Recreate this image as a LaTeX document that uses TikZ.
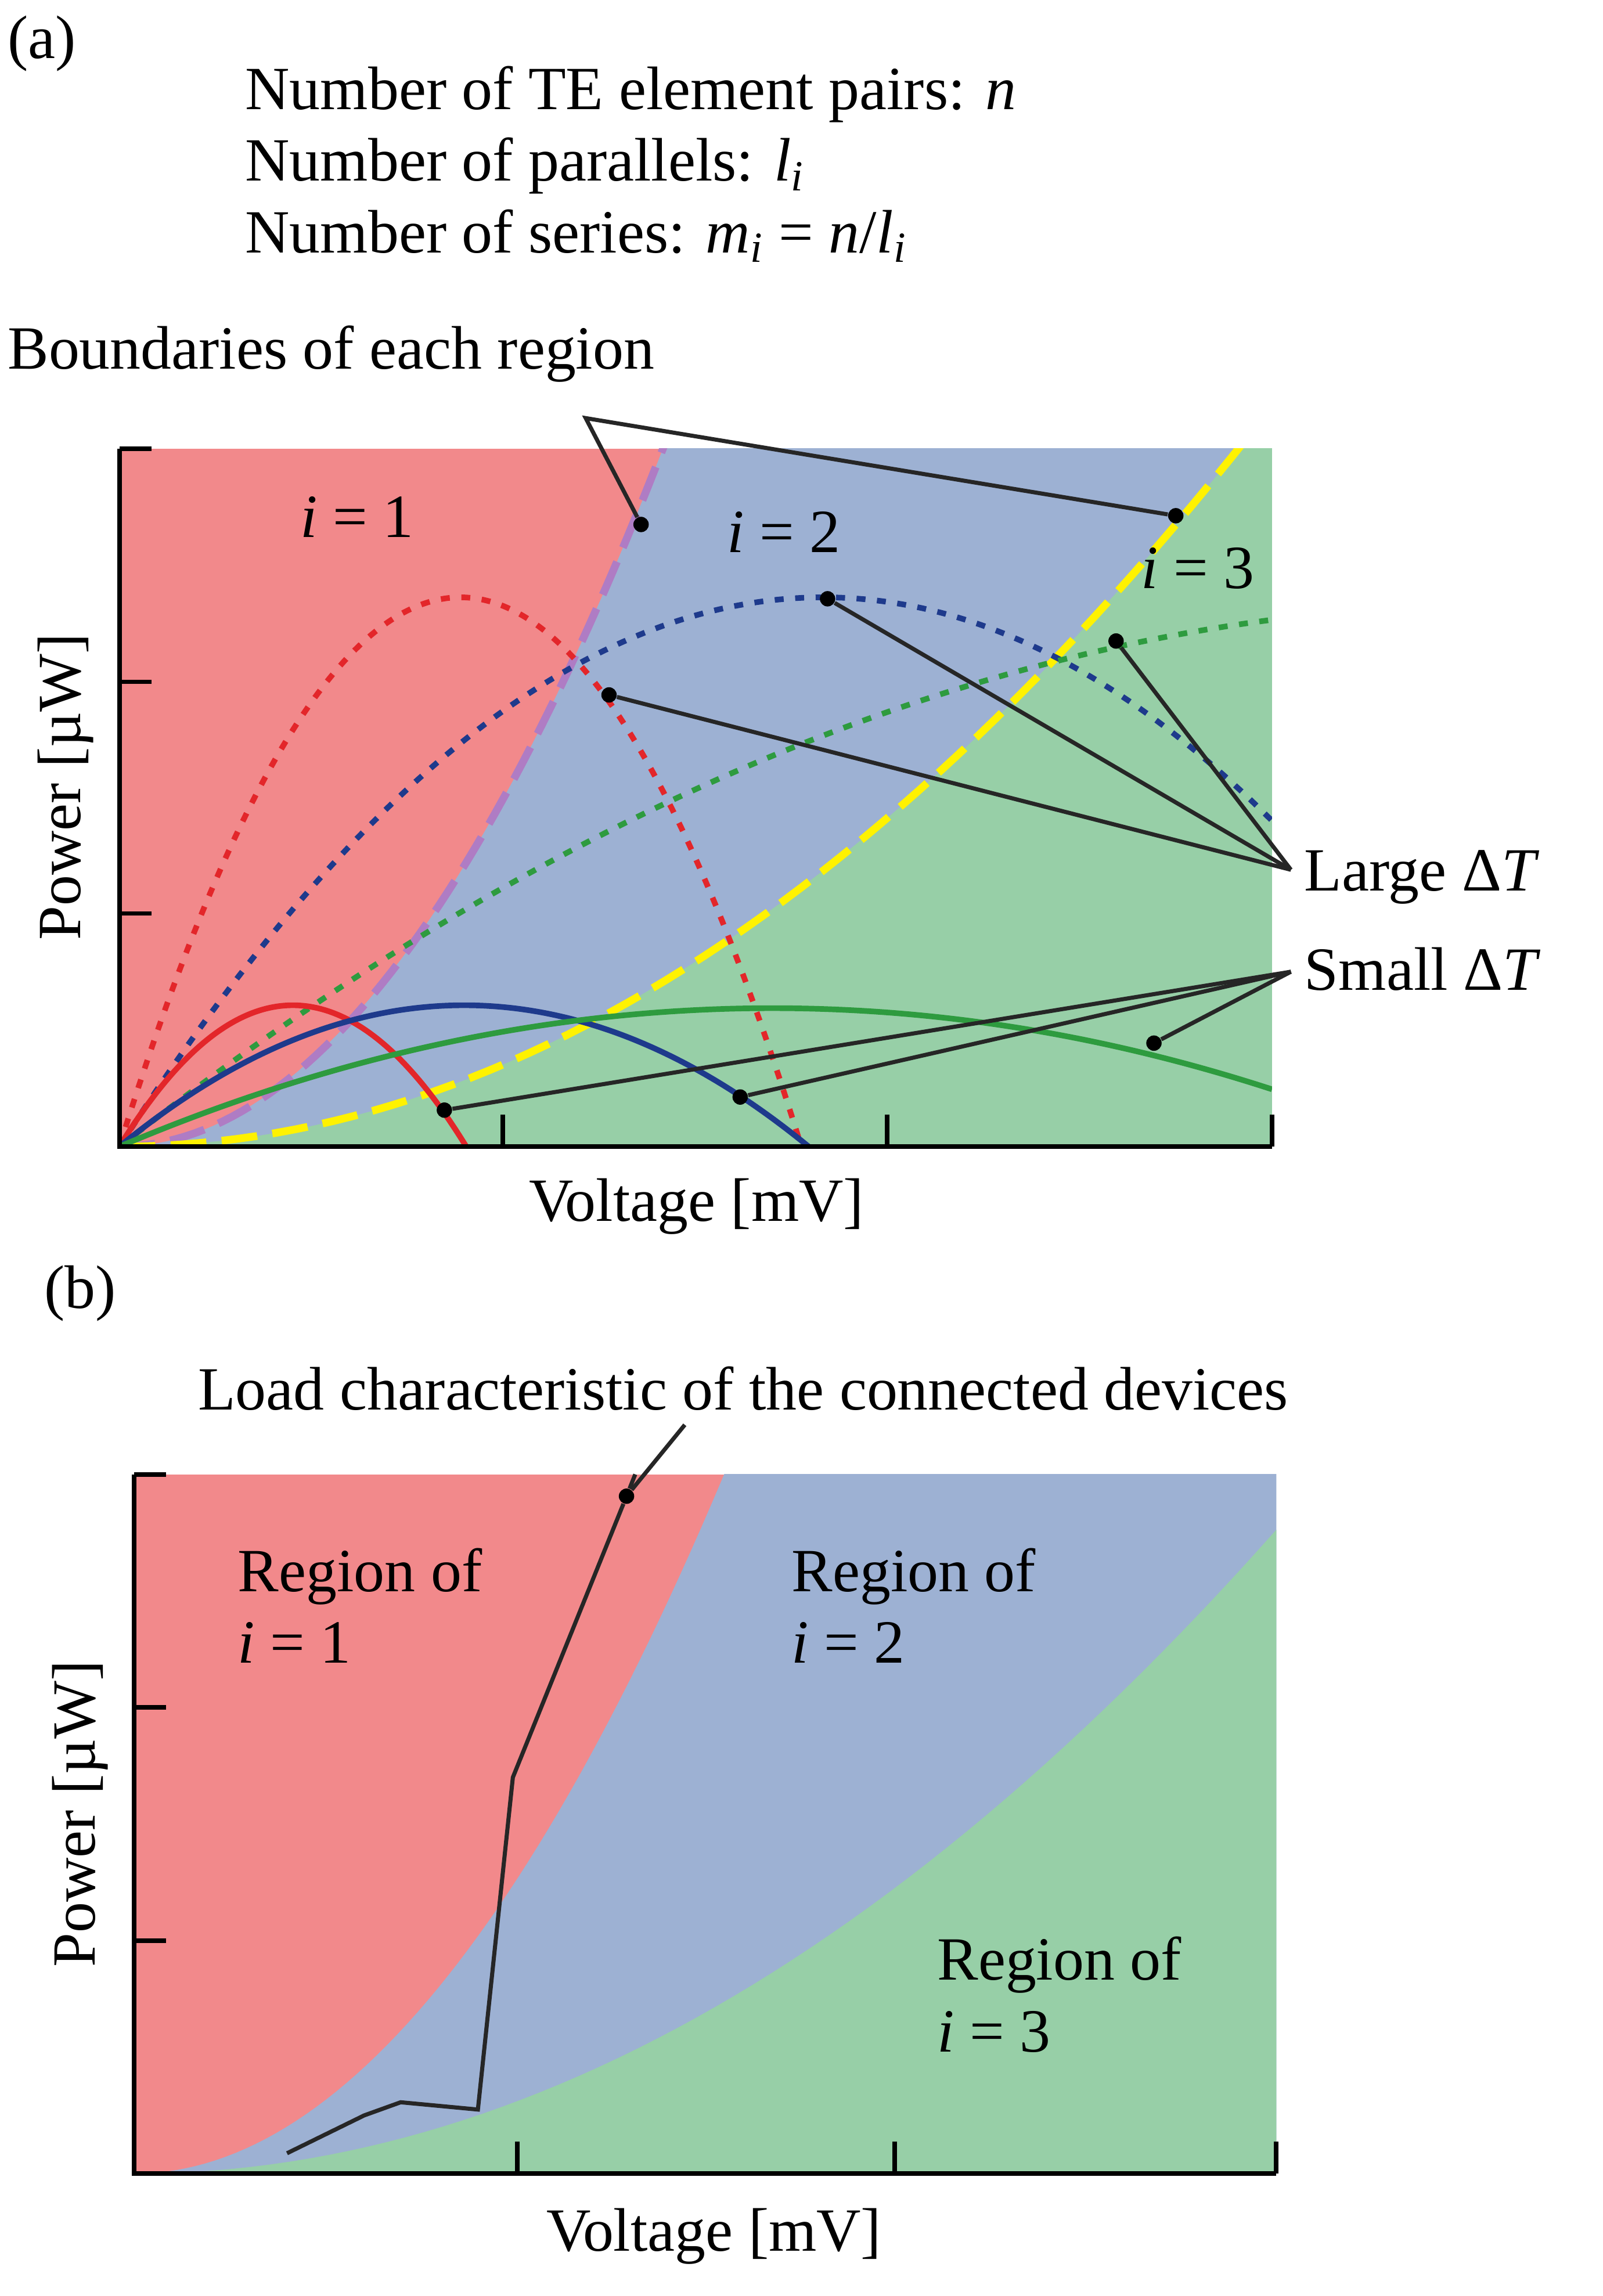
\documentclass[tikz,border=0pt]{standalone}
\usepackage{fontspec}
\setmainfont{Liberation Serif}
\definecolor{regred}{HTML}{F2898B}
\definecolor{regblue}{HTML}{9DB1D3}
\definecolor{reggreen}{HTML}{97CFA7}
\definecolor{cred}{HTML}{E3262A}
\definecolor{cblue}{HTML}{1E3A8C}
\definecolor{cgreen}{HTML}{2E9B3F}
\definecolor{cpurple}{HTML}{9B5BB5}
\tikzset{
    txt/.style = {font=\fontsize{24}{28}\selectfont, inner sep=0pt},
    axisline/.style = {line width=1.8pt, black},
    leader/.style = {line width=1.6pt, black!85},
    dot/.style = {circle, fill=black, inner sep=0pt, minimum size=6pt},
    dotted curve/.style = {line width=2.2pt, dash pattern=on 3.5pt off 4.5pt},
    solid curve/.style = {line width=2.2pt}
}
\newcommand\pvcurve[4]{% colour style, x offset Voc, height, domain end
    \draw[#1] plot[domain=0:#4, samples=80, smooth] ({82+\x},{787-4*#3*(\x/#2)*(1-\x/#2)});
}
\begin{document}
\begin{tikzpicture}[x=0.02cm, y=-0.02cm]
    \useasboundingbox (0,0) rectangle (1100,1576);

    % panel (a)
    \node[txt, anchor=west] (labela) at (5,30) {(a)};
    \node[txt, anchor=north west, align=left] (header) at (168,45)
        {Number of TE element pairs: \textit{n}\\
         Number of parallels: \textit{l\textsubscript{i}}\\
         Number of series: \textit{m\textsubscript{i}} = \textit{n}/\textit{l\textsubscript{i}}};
    \node[txt, anchor=west] (bound) at (5,243) {Boundaries of each region};

    \begin{scope}
        \clip (82,308) rectangle (873,787);
        \fill[regred] (82,308) rectangle (873,787);
        \fill[regblue] (82,787) -- plot[domain=0:380, samples=60] ({82+\x},{787-479*(\x/373)*(\x/373)}) -- (873,250) -- (873,787) -- cycle;
        \fill[reggreen] (82,787) -- plot[domain=0:790, samples=60] ({82+\x},{787-479*(\x/768)*(\x/768)}) -- (873,250) -- (873,787) -- cycle;
        \draw[cpurple!80, line width=3pt, dash pattern=on 14pt off 6pt] plot[domain=0:380, samples=60] ({82+\x},{787-479*(\x/373)*(\x/373)});
        \draw[yellow, line width=3pt, dash pattern=on 14pt off 6pt] plot[domain=0:790, samples=60] ({82+\x},{787-479*(\x/768)*(\x/768)});
        \pvcurve{cred, dotted curve}{468}{377}{468}
        \pvcurve{cblue, dotted curve}{966}{377}{791}
        \pvcurve{cgreen, dotted curve}{1900}{372}{791}
        \pvcurve{cred, solid curve}{238}{97}{238}
        \pvcurve{cblue, solid curve}{473}{97}{473}
        \pvcurve{cgreen, solid curve}{896}{95}{791}
    \end{scope}
    \draw[axisline] (82,308) -- (82,787) -- (873,787);
    \foreach \tx in {345,609,873}
        \draw[axisline] (\tx,787) -- (\tx,765);
    \foreach \ty in {308,468,627}
        \draw[axisline] (82,\ty) -- (104,\ty);

    \node[txt] (i1) at (245,355) {\textit{i} = 1};
    \node[txt] (i2) at (538,365) {\textit{i} = 2};
    \node[txt] (i3) at (822,390) {\textit{i} = 3};
    \node[txt] (volta) at (478,828) {Voltage [mV]};
    \node[txt, rotate=90] (powera) at (45,540) {Power [µW]};
    \node[txt, anchor=west] (large) at (895,602) {Large Δ\textit{T}};
    \node[txt, anchor=west] (small) at (895,665) {Small Δ\textit{T}};

    \coordinate (bfork) at (402,287);
    \node[dot] (b1) at (440,360) {};
    \node[dot] (b2) at (807,354) {};
    \draw[leader] (b1) -- (bfork) -- (b2);

    \coordinate (lfork) at (886,597);
    \node[dot] (l1) at (418,477) {};
    \node[dot] (l2) at (568,411) {};
    \node[dot] (l3) at (766,440) {};
    \foreach \d in {l1,l2,l3}
        \draw[leader] (lfork) -- (\d);

    \coordinate (sfork) at (886,667);
    \node[dot] (s1) at (305,762) {};
    \node[dot] (s2) at (508,753) {};
    \node[dot] (s3) at (792,716) {};
    \foreach \d in {s1,s2,s3}
        \draw[leader] (sfork) -- (\d);

    % panel (b)
    \node[txt, anchor=west] (labelb) at (30,888) {(b)};
    \node[txt] (loadtxt) at (510,953) {Load characteristic of the connected devices};
    \begin{scope}
        \clip (92,1012) rectangle (876,1492);
        \fill[regred] (92,1012) rectangle (876,1492);
        \fill[regblue] (92,1492) -- plot[domain=0:410, samples=60] ({92+\x},{1492-480*(\x/405)*(\x/405)}) -- (876,950) -- (876,1492) -- cycle;
        \fill[reggreen] (92,1492) -- plot[domain=0:784, samples=60] ({92+\x},{1492-442*(\x/784)*(\x/784)}) -- (876,1492) -- cycle;
    \end{scope}
    \draw[axisline] (92,1012) -- (92,1492) -- (876,1492);
    \foreach \tx in {355,614,876}
        \draw[axisline] (\tx,1492) -- (\tx,1470);
    \foreach \ty in {1012,1172,1332}
        \draw[axisline] (92,\ty) -- (114,\ty);

    \node[dot] (ldot) at (430,1027) {};
    \draw[leader] (197,1478) -- (250,1452) -- (275,1443) -- (328,1448) -- (352,1220) -- (ldot) -- (436,1012);
    \draw[leader] (ldot) -- (470,978);

    \node[txt, anchor=west, align=left] (reg1) at (163,1102) {Region of\\\textit{i} = 1};
    \node[txt, anchor=west, align=left] (reg2) at (543,1102) {Region of\\\textit{i} = 2};
    \node[txt, anchor=west, align=left] (reg3) at (643,1369) {Region of\\\textit{i} = 3};
    \node[txt] (voltb) at (490,1535) {Voltage [mV]};
    \node[txt, rotate=90] (powerb) at (55,1245) {Power [µW]};
\end{tikzpicture}
\end{document}
